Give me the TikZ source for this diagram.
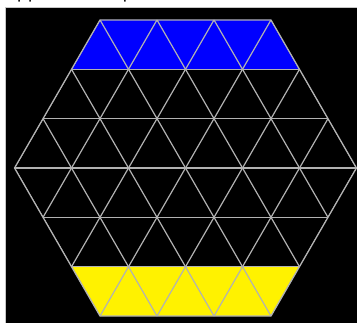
\documentclass[tikz,border=0pt]{standalone}
\usepackage{fontspec}
\setmainfont{DejaVu Sans}
\tikzset{
  gridline/.style={draw=gray!60, line width=0.9pt},
  framebox/.style={draw=gray!45, line width=1.3pt, fill=black},
}
\begin{document}
\begin{tikzpicture}[x=0.75pt, y=-0.75pt]
  \useasboundingbox (0,0) rectangle (357,323);
  % Titulo (cortado por arriba)
  \node[anchor=base west, inner sep=0pt, font=\fontsize{13}{15}\selectfont] (title) at (6,-1.4) {opposed compressed};
  % Marco negro
  \draw[framebox] (5.5,7.5) rectangle (365,335);
  % Filas de color (arriba azul, abajo amarillo)
  \fill[blue] (100,19.92) -- (271,19.92) -- (299.5,69.28) -- (71.5,69.28) -- cycle;
  \fill[yellow] (71.5,266.72) -- (299.5,266.72) -- (271,316.08) -- (100,316.08) -- cycle;
  % Malla triangular dentro del hexagono
  \begin{scope}
    \clip (100,19.92) -- (271,19.92) -- (356.5,168) -- (271,316.08) -- (100,316.08) -- (14.5,168) -- cycle;
    \foreach \k in {-2,...,2}
      \draw[gridline] (0,168+\k*49.36) -- (357,168+\k*49.36);
    \foreach \i in {-6,...,6} {
      \draw[gridline] (185.5+\i*57-85.5,19.92) -- (185.5+\i*57+85.5,316.08);
      \draw[gridline] (185.5+\i*57+85.5,19.92) -- (185.5+\i*57-85.5,316.08);
    }
  \end{scope}
  % Borde del hexagono
  \draw[gridline, line join=round] (100,19.92) -- (271,19.92) -- (356.5,168) -- (271,316.08) -- (100,316.08) -- (14.5,168) -- cycle;
\end{tikzpicture}
\end{document}
